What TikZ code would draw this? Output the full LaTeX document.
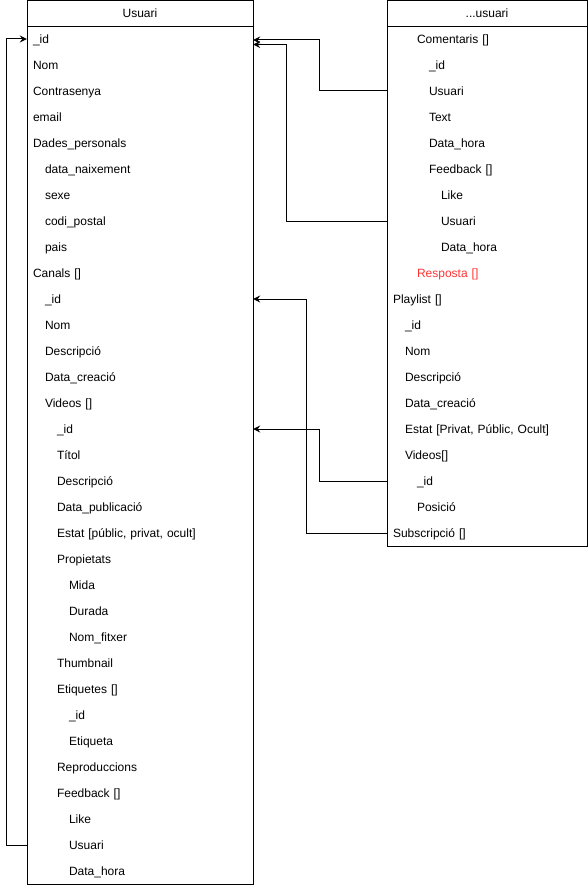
\documentclass[tikz,border=0pt]{standalone}
\usepackage{fontspec}
\setmainfont{Liberation Sans}
\usetikzlibrary{arrows.meta}
\definecolor{respred}{RGB}{255,51,51}
\newdimen\indstep \indstep=12pt
\begin{document}
\begin{tikzpicture}[x=1pt,y=-1pt,
  every node/.style={font=\fontsize{12}{14}\selectfont},
  tablebox/.style={draw, line width=1pt, anchor=north west, inner sep=0pt},
  rowL/.style={minimum width=226pt, minimum height=26pt, text width=214pt, text height=10.5pt, text depth=1.5pt, inner xsep=6pt, inner ysep=0pt, align=left},
  rowR/.style={minimum width=200pt, minimum height=26pt, text width=188pt, text height=10.5pt, text depth=1.5pt, inner xsep=6pt, inner ysep=0pt, align=left},
  conn/.style={line width=1pt, -{Stealth[length=7pt,width=7pt,inset=2.5pt]}}
]
\useasboundingbox (0,0) rectangle (588,888);
% left table
\node[tablebox, minimum width=226pt, minimum height=884pt] (LT) at (27,0) {};
\node[tablebox, minimum width=226pt, minimum height=26pt] (LH) at (27,0) {};
\node[text height=10.5pt, text depth=1.5pt] (LHt) at (140,13) {Usuari};
\foreach [count=\n from 0] \lev/\txt in {0/\_id,0/Nom,0/Contrasenya,0/email,0/Dades\_personals,1/data\_naixement,1/sexe,1/codi\_postal,1/pais,0/Canals [],1/\_id,1/Nom,1/Descripció,1/Data\_creació,1/Videos [],2/\_id,2/Títol,2/Descripció,2/Data\_publicació,2/{Estat [públic, privat, ocult]},2/Propietats,3/Mida,3/Durada,3/Nom\_fitxer,2/Thumbnail,2/Etiquetes [],3/\_id,3/Etiqueta,2/Reproduccions,2/Feedback [],3/Like,3/Usuari,3/Data\_hora} {
  \node[rowL] (L\n) at (140,39+26*\n) {\hspace*{\lev\indstep}\txt};
}
% right table
\node[tablebox, minimum width=200pt, minimum height=546pt] (RT) at (387,0) {};
\node[tablebox, minimum width=200pt, minimum height=26pt] (RH) at (387,0) {};
\node[text height=10.5pt, text depth=1.5pt] (RHt) at (487,13) {...usuari};
\foreach [count=\n from 0] \lev/\txt in {2/Comentaris [],3/\_id,3/Usuari,3/Text,3/Data\_hora,3/Feedback [],4/Like,4/Usuari,4/Data\_hora,2/{\textcolor{respred}{Resposta []}},0/Playlist [],1/\_id,1/Nom,1/Descripció,1/Data\_creació,1/{Estat [Privat, Públic, Ocult]},1/Videos[],2/\_id,2/Posició,0/Subscripció []} {
  \node[rowR] (R\n) at (487,39+26*\n) {\hspace*{\lev\indstep}\txt};
}
% connectors
\draw[conn] (R2.west) -- ++(-67,0) |- ([yshift=-1pt]L0.east);
\draw[conn] (R7.west) -- ++(-100,0) |- ([yshift=-5.5pt]L0.east);
\draw[conn] (R19.west) -- ++(-80,0) |- (L10.east);
\draw[conn] (R17.west) -- ++(-67,0) |- (L15.east);
\draw[conn] (L31.west) -- ++(-20,0) |- (L0.west);
\end{tikzpicture}
\end{document}
